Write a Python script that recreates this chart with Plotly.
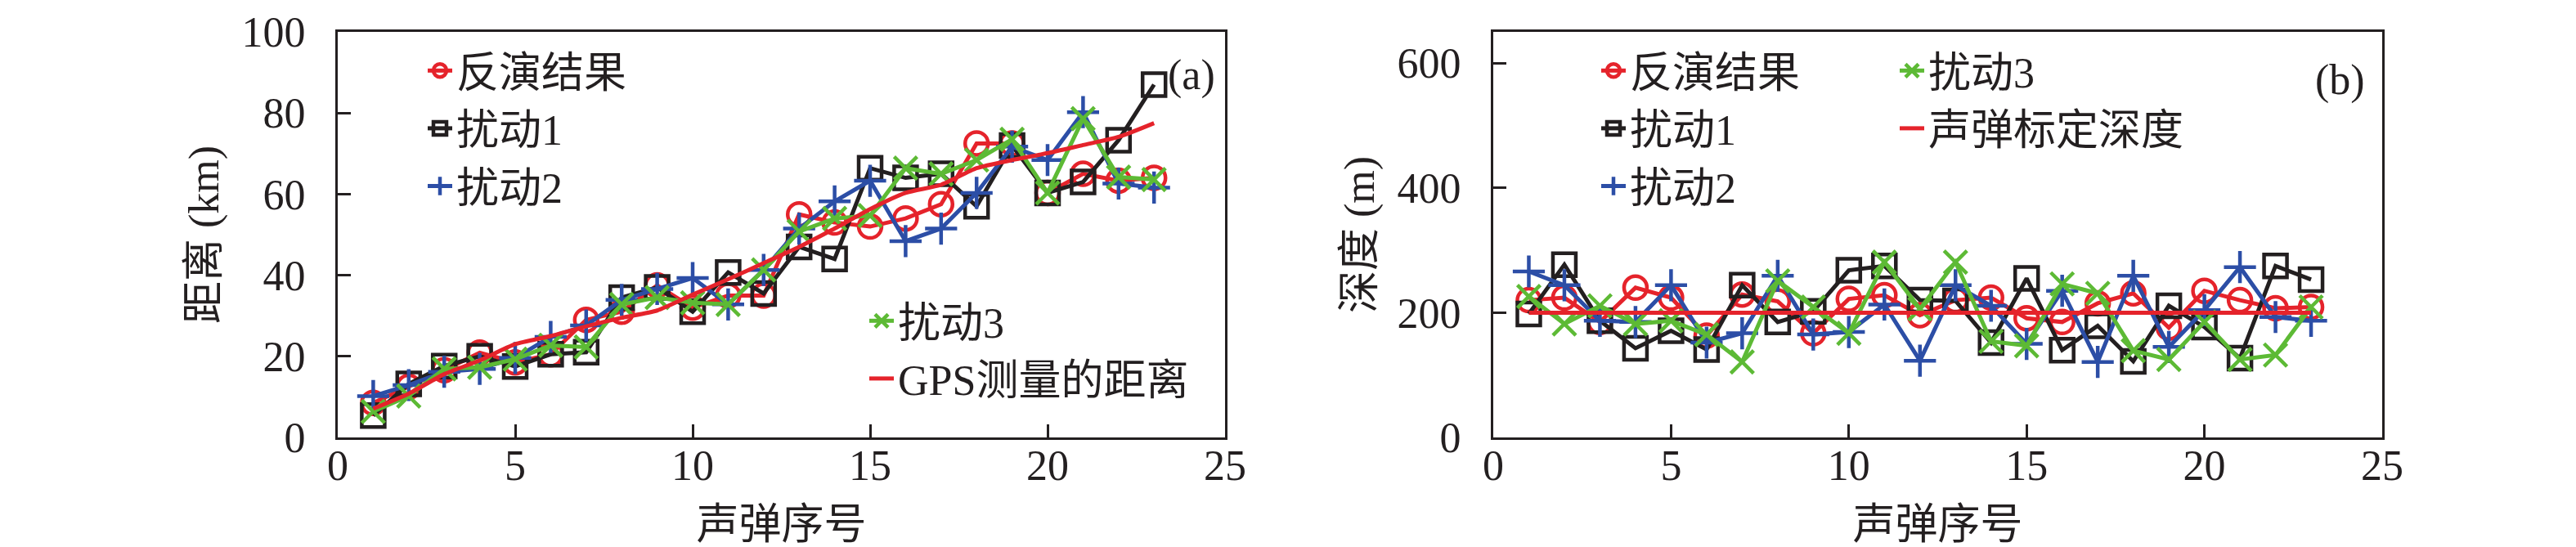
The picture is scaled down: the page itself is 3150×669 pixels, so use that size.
import plotly.graph_objects as go

# ---------------- data ----------------
shot_idx = list(range(1, 24))

# (a) distance, km
inv_a = [8.5, 12.5, 16.6, 20.9, 18.5, 20.5, 29, 31, 37.5, 32, 35, 35, 55, 53, 52, 54, 57.5, 72.5, 72.5, 60.3, 65, 63.3, 64]
pert1_a = [5.4, 13.2, 17.6, 20, 17.5, 20.5, 21, 34.5, 37, 31, 40.7, 35.5, 47, 44, 66.4, 64, 65, 57, 72, 60.3, 63, 73.3, 87]
pert2_a = [10.2, 12.9, 16.2, 16.9, 19.6, 24.8, 27.6, 33.9, 36.6, 39.3, 32.8, 41.3, 51.5, 58.2, 63.3, 48.4, 51.5, 60.3, 71.7, 68.4, 80.2, 62.6, 61.6]
pert3_a = [6.4, 10.2, 16.9, 17.3, 19.3, 22.7, 22.3, 32.8, 34.5, 33.2, 32.8, 41.3, 50.8, 54, 54.7, 66.4, 65, 68.4, 73.5, 60.3, 78.6, 64.2, 63.6]
gps_a = [7.1, 10.8, 15.6, 19, 23, 25, 27.4, 29.5, 31.3, 35.2, 39, 43, 47, 51.5, 56.3, 60.3, 62.3, 66.4, 68.4, 70.1, 72.1, 74.1, 77.5]

# (b) depth, m
inv_b = [220, 224, 185, 240, 224, 163, 229, 218, 167, 222, 228, 196, 220, 224, 191, 185, 215, 231, 176, 235, 220, 207, 209]
pert1_b = [198, 277, 187, 143, 171, 141, 244, 185, 202, 268, 275, 220, 219, 152, 255, 140, 179, 122, 211, 177, 127, 275, 253]
pert2_b = [266, 244, 187, 185, 244, 152, 167, 259, 165, 169, 213, 123, 244, 211, 150, 235, 121, 259, 145, 204, 273, 193, 187]
pert3_b = [226, 182, 211, 182, 187, 165, 121, 251, 209, 167, 281, 206, 281, 154, 147, 246, 231, 139, 125, 185, 125, 132, 209]
calib_b = [200, 200, 200, 200, 200, 200, 200, 200, 200, 200, 200, 200,
           200, 200, 200, 200, 200, 200, 200, 200, 200, 200, 200]

x_ticks = [0, 5, 10, 15, 20, 25]
ya_ticks = [0, 20, 40, 60, 80, 100]
yb_ticks = [0, 200, 400, 600]

# ---------------- style ----------------
RED = "#E5232B"
BLACK = "#231F20"
BLUE = "#2C4EA6"
GREEN = "#5DBA35"
FONT = "Liberation Serif, Noto Sans CJK SC"
FS = 52
LW = 5
MS = 28

fig = go.Figure()


def add_series(x, y, name, color, symbol, xa, ya, legend, mlw=4.5):
    fig.add_trace(go.Scatter(
        x=x, y=y, name=name, mode="lines+markers",
        line=dict(color=color, width=LW),
        marker=dict(symbol=symbol, size=MS, color=color,
                    line=dict(color=color, width=mlw)),
        xaxis=xa, yaxis=ya, legend=legend))


# panel (a)
add_series(shot_idx, inv_a, "反演结果", RED, "circle-open", "x", "y", "legend")
add_series(shot_idx, pert1_a, "扰动1", BLACK, "square-open", "x", "y", "legend")
add_series(shot_idx, pert2_a, "扰动2", BLUE, "cross-thin-open", "x", "y", "legend")
add_series(shot_idx, pert3_a, "扰动3", GREEN, "x-thin-open", "x", "y", "legend2")
fig.add_trace(go.Scatter(x=shot_idx, y=gps_a, name="GPS测量的距离", mode="lines",
                         line=dict(color=RED, width=LW, shape="spline", smoothing=0.6),
                         xaxis="x", yaxis="y", legend="legend2"))

# panel (b)
add_series(shot_idx, inv_b, "反演结果", RED, "circle-open", "x2", "y2", "legend3")
add_series(shot_idx, pert1_b, "扰动1", BLACK, "square-open", "x2", "y2", "legend3")
add_series(shot_idx, pert2_b, "扰动2", BLUE, "cross-thin-open", "x2", "y2", "legend3")
add_series(shot_idx, pert3_b, "扰动3", GREEN, "x-thin-open", "x2", "y2", "legend4")
fig.add_trace(go.Scatter(x=shot_idx, y=calib_b, name="声弹标定深度", mode="lines",
                         line=dict(color=RED, width=LW),
                         xaxis="x2", yaxis="y2", legend="legend4"))

W, H = 3150, 669


def px(xp):
    return xp / W


def py(yp):
    return 1 - yp / H


axis_common = dict(
    showline=True, linewidth=3, linecolor=BLACK, mirror=True,
    ticks="inside", ticklen=16, tickwidth=3, tickcolor=BLACK,
    showgrid=False, zeroline=False, automargin=False,
    tickfont=dict(family=FONT, size=FS, color=BLACK),
)

xdom_a = [px(405), px(1490)]
xdom_b = [px(1818), px(2905)]
ydom = [py(527), py(31)]

fig.update_layout(
    width=W, height=H,
    margin=dict(l=0, r=0, t=0, b=0),
    paper_bgcolor="white", plot_bgcolor="white",
    font=dict(family=FONT, size=FS, color=BLACK),
    xaxis=dict(domain=xdom_a, range=[0, 25], tickvals=x_ticks, anchor="y",
               title=dict(text="声弹序号", standoff=26, font=dict(size=FS)),
               ticklabelstandoff=-13, **axis_common),
    yaxis=dict(domain=ydom, range=[0, 100], tickvals=ya_ticks, anchor="x",
               title=dict(text="距离 (km)", standoff=12, font=dict(size=FS)),
               ticklabelstandoff=26, **axis_common),
    xaxis2=dict(domain=xdom_b, range=[0, 25], tickvals=x_ticks, anchor="y2",
                title=dict(text="声弹序号", standoff=26, font=dict(size=FS)),
                ticklabelstandoff=-13, **axis_common),
    yaxis2=dict(domain=ydom, range=[0, 650], tickvals=yb_ticks, anchor="x2",
                title=dict(text="深度 (m)", standoff=12, font=dict(size=FS)),
                ticklabelstandoff=26, **axis_common),
    showlegend=True,
)

leg_common = dict(bgcolor="rgba(0,0,0,0)", borderwidth=0, xanchor="left", yanchor="top",
                  font=dict(family=FONT, size=FS, color=BLACK), itemsizing="trace",
                  tracegroupgap=0)

fig.update_layout(
    legend=dict(x=px(510), y=py(38), **leg_common),
    legend2=dict(x=px(1050), y=py(344), **leg_common),
    legend3=dict(x=px(1945), y=py(38), **leg_common),
    legend4=dict(x=px(2310), y=py(38), **leg_common),
)

fig.add_annotation(text="(a)", x=px(1480), y=py(84), xref="paper", yref="paper",
                   xanchor="right", yanchor="middle", showarrow=False,
                   font=dict(family=FONT, size=FS, color=BLACK))
fig.add_annotation(text="(b)", x=px(2886), y=py(90), xref="paper", yref="paper",
                   xanchor="right", yanchor="middle", showarrow=False,
                   font=dict(family=FONT, size=FS, color=BLACK))

fig.write_html("out.html")
